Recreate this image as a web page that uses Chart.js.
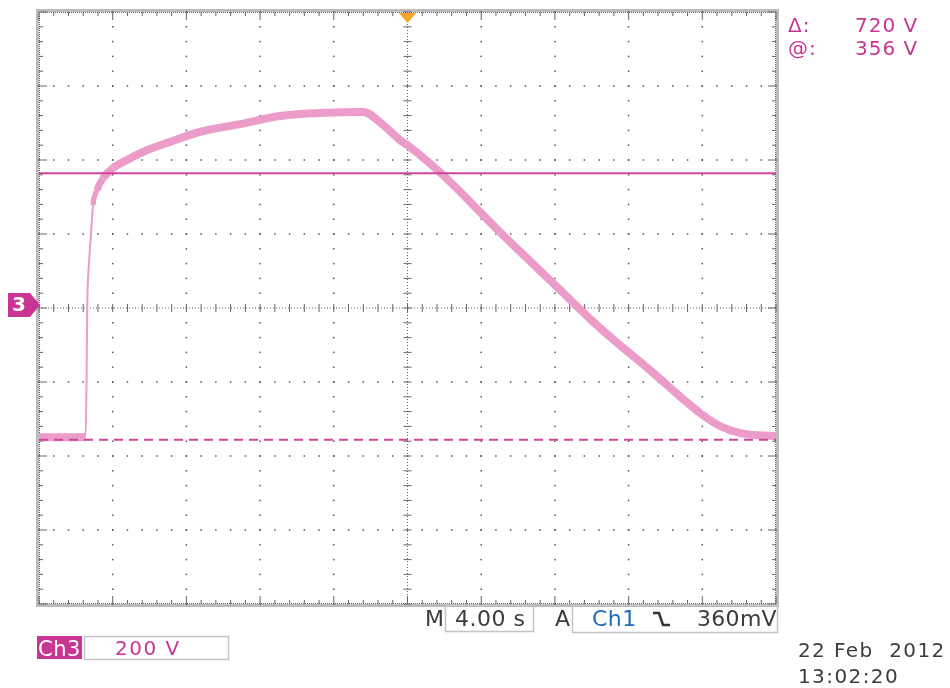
<!DOCTYPE html>
<html>
<head>
<meta charset="utf-8">
<title>Ch3 capture</title>
<script src="https://cdn.jsdelivr.net/npm/chart.js@4/dist/chart.umd.min.js"></script>
<style>
  body { margin: 0; background: #fff; width: 950px; height: 688px; overflow: hidden; }
  #scope { position: absolute; left: 0; top: 0; }
</style>
</head>
<body>
<canvas id="scope" width="950" height="688"></canvas>
<script>
// graticule divisions (s, and V from screen centre)
const timeDivs = [-20, -16, -12, -8, -4, 0, 4, 8, 12, 16, 20];
const voltDivs = [-800, -600, -400, -200, 0, 200, 400, 600, 800];
// Ch3 ground sits a little above screen centre
const groundOffset = 8;

// Ch3 trace, time in s (trigger at 0), level in V above ground
const traceTime  = [-20, -17.47, -17.42, -17.38, -17.31, -17.2, -17.07, -16.85, -16.52, -15.98, -15.22, -14.35, -12.89, -11.26, -9.09, -6.92, -4.75, -2.41, -1.33, -0.41, 0.14, 1.93, 5.02, 8.28, 10.45, 13.16, 15.88, 16.96, 18.05, 20];
const traceVolts = [-357, -357, -203, 0, 95, 176, 270, 311, 343, 370, 392, 414, 441, 468, 489, 511, 519, 522, 487, 446, 427, 351, 197, 41, -62, -176, -292, -327, -346, -354];

// cursor levels: @ and the second bar
const cursorVolts = [356, -364];

const voltsPerDiv = "200 V";
const timePerDiv = "4.00 s";
const trigSource = "Ch1";
const trigLevel = "360mV";
const stampDate = "22 Feb  2012";
const stampTime = "13:02:20";

const MAGENTA = "#c93592";
const TRACE = "#ec9cc9";
const INK = "#3c3c3c";

function minorSteps(divs){
    const out = [];
    for(let i = 0; i < divs.length - 1; i++){
        const step = (divs[i+1] - divs[i]) / 5;
        for(let k = 0; k < 5; k++) out.push(divs[i] + k*step);
    }
    out.push(divs[divs.length-1]);
    return out;
}

function text(ctx, s, x, y, size, color, spacing){
    ctx.font = `${size}px "DejaVu Sans"`;
    ctx.fillStyle = color;
    ctx.letterSpacing = (spacing || 0) + "px";
    ctx.textAlign = "left";
    ctx.textBaseline = "alphabetic";
    ctx.fillText(s, x, y);
}

// dotted scope graticule with tick marks on the centre cross and the frame
const graticule = {
    id: "graticule",
    beforeDatasetsDraw(chart){
        const { ctx, chartArea: a, scales: { x, y } } = chart;
        const px = v => x.getPixelForValue(v);
        const py = v => y.getPixelForValue(v - groundOffset);
        const xMinor = minorSteps(timeDivs);
        const yMinor = minorSteps(voltDivs);
        const cx = px(0), cy = py(0);
        ctx.save();

        // frame
        ctx.strokeStyle = "#bbbbbb";
        ctx.lineWidth = 3;
        ctx.strokeRect(a.left - 1.5, a.top - 1.5, a.right - a.left + 3, a.bottom - a.top + 3);

        ctx.fillStyle = "#555";
        // dots along the inner division lines
        timeDivs.slice(1, -1).forEach(v => {
            if(v === 0) return;
            yMinor.forEach(w => ctx.fillRect(px(v) - 0.75, py(w) - 0.75, 1.5, 1.5));
        });
        voltDivs.slice(1, -1).forEach(v => {
            if(v === 0) return;
            xMinor.forEach(w => ctx.fillRect(px(w) - 0.75, py(v) - 0.75, 1.5, 1.5));
        });

        // centre cross: dense dots + ticks
        ctx.fillStyle = "#666";
        for(let t = a.top; t < a.bottom; t += 3) ctx.fillRect(cx - 0.5, t, 1, 1);
        for(let t = a.left; t < a.right; t += 3) ctx.fillRect(t, cy - 0.5, 1, 1);
        yMinor.forEach(w => ctx.fillRect(cx - 4, py(w) - 0.5, 8, 1));
        xMinor.forEach(w => ctx.fillRect(px(w) - 0.5, cy - 4, 1, 8));

        // frame edge: dense dots + inward ticks
        for(let t = a.top; t < a.bottom; t += 2){
            ctx.fillRect(a.left, t, 1, 1);
            ctx.fillRect(a.right - 1, t, 1, 1);
        }
        for(let t = a.left; t < a.right; t += 2){
            ctx.fillRect(t, a.top, 1, 1);
            ctx.fillRect(t, a.bottom - 1, 1, 1);
        }
        xMinor.forEach((w, i) => {
            const len = i % 5 === 0 ? 8 : 4;
            ctx.fillRect(px(w) - 0.5, a.top, 1, len);
            ctx.fillRect(px(w) - 0.5, a.bottom - len, 1, len);
        });
        yMinor.forEach((w, i) => {
            const len = i % 5 === 0 ? 8 : 4;
            ctx.fillRect(a.left, py(w) - 0.5, len, 1);
            ctx.fillRect(a.right - len, py(w) - 0.5, len, 1);
        });
        ctx.restore();
    },
    afterDraw(chart){
        const { ctx, chartArea: a, scales: { x, y } } = chart;
        ctx.save();

        // trigger position marker
        const tx = x.getPixelForValue(0);
        ctx.fillStyle = "#f5a62a";
        ctx.beginPath();
        ctx.moveTo(tx - 8.5, a.top + 1);
        ctx.lineTo(tx + 8.5, a.top + 1);
        ctx.lineTo(tx, a.top + 11);
        ctx.closePath();
        ctx.fill();

        // channel 3 ground marker
        const gy = y.getPixelForValue(0);
        ctx.fillStyle = MAGENTA;
        ctx.beginPath();
        ctx.moveTo(8, gy - 12);
        ctx.lineTo(30, gy - 12);
        ctx.lineTo(a.left + 1, gy);
        ctx.lineTo(30, gy + 12);
        ctx.lineTo(8, gy + 12);
        ctx.closePath();
        ctx.fill();
        ctx.font = 'bold 20px "DejaVu Sans"';
        ctx.fillStyle = "#fff";
        ctx.textAlign = "center";
        ctx.textBaseline = "middle";
        ctx.fillText("3", 19, gy + 1);

        // cursor readout
        const delta = cursorVolts[0] - cursorVolts[1];
        text(ctx, "\u0394:", 788, 32, 20, MAGENTA, 1);
        text(ctx, `${delta} V`, 855, 32, 20, MAGENTA, 1);
        text(ctx, "@:", 788, 55, 20, MAGENTA, 1);
        text(ctx, `${cursorVolts[0]} V`, 855, 55, 20, MAGENTA, 1);

        // vertical scale
        ctx.fillStyle = MAGENTA;
        ctx.fillRect(37, 636, 45, 23);
        text(ctx, "Ch3", 38, 656, 21, "#fff", 0.5);
        ctx.strokeStyle = "#c4c4c4";
        ctx.lineWidth = 1.5;
        ctx.strokeRect(84.5, 636.5, 144, 23);
        text(ctx, voltsPerDiv, 115, 655, 20, MAGENTA, 1.5);

        // horizontal scale and trigger
        text(ctx, "M", 425, 626, 22, INK, 0);
        ctx.strokeRect(445.5, 605.5, 88, 26);
        text(ctx, timePerDiv, 455, 626, 22, INK, 0.5);
        text(ctx, "A", 555, 626, 22, INK, 0);
        ctx.strokeRect(572.5, 605.5, 205, 27);
        text(ctx, trigSource, 592, 626, 22, "#1c6dbd", 0.5);
        ctx.strokeStyle = "#333";
        ctx.lineWidth = 2.5;
        ctx.beginPath();
        ctx.moveTo(653, 613);
        ctx.lineTo(659, 613);
        ctx.lineTo(663, 625);
        ctx.lineTo(670, 625);
        ctx.stroke();
        text(ctx, trigLevel, 697, 626, 22, INK, 0.3);

        // timestamp
        text(ctx, stampDate, 798, 657, 20, INK, 1.4);
        text(ctx, stampTime, 798, 683, 20, INK, 1.4);
        ctx.restore();
    }
};

const flat = v => [{ x: timeDivs[0], y: v }, { x: timeDivs[timeDivs.length-1], y: v }];

new Chart(document.getElementById("scope"), {
    type: "line",
    data: {
        datasets: [
            {
                data: flat(cursorVolts[0]),
                borderColor: "#d0449c",
                borderWidth: 2,
                pointRadius: 0
            },
            {
                data: flat(cursorVolts[1]),
                borderColor: "#d0449c",
                borderWidth: 2,
                borderDash: [9, 6],
                pointRadius: 0
            },
            {
                data: traceTime.map((t, i) => ({ x: t, y: traceVolts[i] })),
                borderColor: TRACE,
                borderWidth: 8,
                pointRadius: 0,
                cubicInterpolationMode: "monotone",
                segment: {
                    // thin where the trace is steep
                    borderWidth: c => {
                        const dx = Math.abs(c.p1.x - c.p0.x) || 0.01;
                        const ratio = Math.abs(c.p1.y - c.p0.y) / dx;
                        return Math.max(2, Math.min(8, 9 - ratio));
                    }
                }
            }
        ]
    },
    options: {
        responsive: false,
        animation: false,
        layout: { padding: { left: 39, right: 174, top: 12, bottom: 84 } },
        plugins: { legend: { display: false }, tooltip: { enabled: false } },
        scales: {
            x: { type: "linear", min: timeDivs[0], max: timeDivs[timeDivs.length-1], display: false },
            y: { type: "linear", min: voltDivs[0] - groundOffset, max: voltDivs[voltDivs.length-1] - groundOffset, display: false }
        }
    },
    plugins: [graticule]
});
</script>
</body>
</html>
